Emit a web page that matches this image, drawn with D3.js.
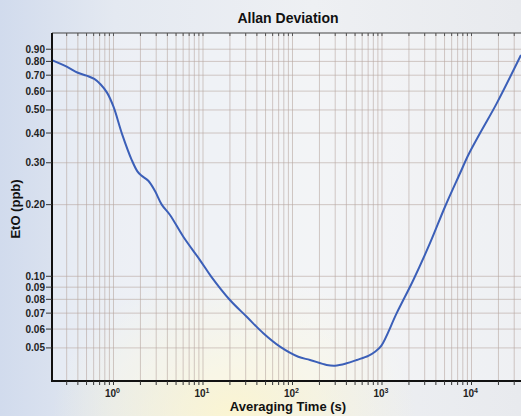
<!DOCTYPE html>
<html>
<head>
<meta charset="utf-8">
<script src="https://cdn.jsdelivr.net/npm/d3@7"></script>
<style>
  body { margin: 0; overflow: hidden; }
  svg { display: block; font-family: "Liberation Sans", Arial, sans-serif; }
  .grid line { stroke: #b7a7a0; stroke-opacity: 0.6; stroke-width: 1; }
  .tick-label { font-size: 10px; font-weight: bold; fill: #222; }
</style>
</head>
<body>
<svg id="chart" width="521" height="416"></svg>
<script>
"use strict";
// averaging time (s) and Allan deviation (ppb)
const tau = [0.205, 0.30, 0.40, 0.50, 0.61, 0.72, 0.85, 1.0, 1.25, 1.6, 1.85, 2.05, 2.45, 2.91, 3.46,
    4.28, 6.03, 9.25, 12.3, 20.0, 30.8, 47.2, 72.5, 116, 157, 241, 298, 403, 522, 703, 836, 980,
    1460, 2239, 3436, 5058, 7447, 9210, 12440, 19130, 35730];
const adev = [0.81, 0.76, 0.717, 0.697, 0.675, 0.64, 0.59, 0.516, 0.395, 0.308, 0.276, 0.265, 0.252, 0.228, 0.200,
    0.181, 0.1466, 0.117, 0.100, 0.0795, 0.0676, 0.0576, 0.0506, 0.0459, 0.0445, 0.0424, 0.0421, 0.0431, 0.0445, 0.0463, 0.0482, 0.051,
    0.070, 0.0965, 0.1377, 0.196, 0.271, 0.3234, 0.399, 0.533, 0.851];
const yTicks = [0.05, 0.06, 0.07, 0.08, 0.09, 0.10, 0.20, 0.30, 0.40, 0.50, 0.60, 0.70, 0.80, 0.90];
const xMajor = [0, 1, 2, 3, 4]; // exponents of 10

const width = 521, height = 416;
const margin = {top: 33, right: 0, bottom: 35, left: 52};

const svg = d3.select("#chart");
const defs = svg.append("defs");

// background: pale blue on the left, a warm glow low in the middle
let lg = defs.append("linearGradient").attr("id", "bg").attr("x1", 0).attr("x2", 1).attr("y1", 0).attr("y2", 0);
lg.append("stop").attr("offset", "0").attr("stop-color", "#d1dbed");
lg.append("stop").attr("offset", "0.22").attr("stop-color", "#e4e9f1");
lg.append("stop").attr("offset", "0.6").attr("stop-color", "#eef0f3");
lg.append("stop").attr("offset", "1").attr("stop-color", "#e8eaee");
let rg = defs.append("radialGradient").attr("id", "glow")
    .attr("cx", 0.45).attr("cy", 1.0).attr("r", 0.35);
rg.append("stop").attr("offset", "0").attr("stop-color", "#fbf5d2").attr("stop-opacity", 1);
rg.append("stop").attr("offset", "1").attr("stop-color", "#fbf5d2").attr("stop-opacity", 0);

svg.append("rect").attr("width", width).attr("height", height).attr("fill", "url(#bg)");
svg.append("rect").attr("width", width).attr("height", height).attr("fill", "url(#glow)");

const x = d3.scaleLog()
    .domain([0.2056, 35730])
    .range([margin.left, width - margin.right]);
const y = d3.scaleLog()
    .domain([0.0363, 1.053])
    .range([height - margin.bottom, margin.top]);

// plot area wash
svg.append("rect")
    .attr("x", margin.left).attr("y", margin.top)
    .attr("width", width - margin.left).attr("height", height - margin.bottom - margin.top)
    .attr("fill", "#ffffff").attr("fill-opacity", 0.3);

// minor positions 1..9 per decade
let xMinor = [];
for (let e = -1; e <= 4; e++) {
    for (let m = 1; m <= 9; m++) {
        let v = m * Math.pow(10, e);
        if (v > x.domain()[0] && v < x.domain()[1]) xMinor.push(v);
    }
}

const grid = svg.append("g").attr("class", "grid");
grid.selectAll(".vx").data(xMinor).enter().append("line")
    .attr("x1", d => x(d)).attr("x2", d => x(d))
    .attr("y1", margin.top).attr("y2", height - margin.bottom);
grid.selectAll(".hy").data(yTicks).enter().append("line")
    .attr("x1", margin.left).attr("x2", width)
    .attr("y1", d => y(d)).attr("y2", d => y(d));

// the curve
const line = d3.line()
    .x((d, i) => x(tau[i]))
    .y(d => y(d))
    .curve(d3.curveCatmullRom.alpha(0.5));
svg.append("path")
    .datum(adev)
    .attr("d", line)
    .attr("fill", "none")
    .attr("stroke", "#3b5fb8")
    .attr("stroke-width", 2);

// axes frame
const bottomY = height - margin.bottom;
svg.append("line").attr("x1", margin.left).attr("x2", width)
    .attr("y1", margin.top).attr("y2", margin.top)
    .attr("stroke", "#444").attr("stroke-width", 1.2);
svg.append("line").attr("x1", margin.left).attr("x2", width)
    .attr("y1", bottomY).attr("y2", bottomY)
    .attr("stroke", "#111").attr("stroke-width", 2);
svg.append("line").attr("x1", margin.left).attr("x2", margin.left)
    .attr("y1", margin.top).attr("y2", bottomY + 1)
    .attr("stroke", "#111").attr("stroke-width", 2);

// x ticks (below) and short ticks under top border
svg.selectAll(".xt").data(xMinor).enter().append("line")
    .attr("x1", d => x(d)).attr("x2", d => x(d))
    .attr("y1", bottomY).attr("y2", bottomY + 4)
    .attr("stroke", "#333").attr("stroke-width", 1);
svg.selectAll(".xtt").data(xMinor).enter().append("line")
    .attr("x1", d => x(d)).attr("x2", d => x(d))
    .attr("y1", margin.top).attr("y2", margin.top + 3)
    .attr("stroke", "#555").attr("stroke-width", 1);

let xl = svg.selectAll(".xl").data(xMinor.filter(d => xMajor.some(e => Math.abs(Math.log10(d) - e) < 1e-9)))
    .enter().append("text")
    .attr("class", "tick-label")
    .attr("x", d => x(d) - 1)
    .attr("y", bottomY + 16)
    .attr("text-anchor", "middle");
xl.append("tspan").text("10");
xl.append("tspan").attr("dy", -4).style("font-size", "7px").text(d => Math.round(Math.log10(d)));

// y ticks
svg.selectAll(".yt").data(yTicks).enter().append("line")
    .attr("x1", margin.left - 6).attr("x2", margin.left)
    .attr("y1", d => y(d)).attr("y2", d => y(d))
    .attr("stroke", "#333").attr("stroke-width", 1);
svg.selectAll(".yl").data(yTicks).enter().append("text")
    .attr("class", "tick-label")
    .attr("x", margin.left - 7)
    .attr("y", d => y(d))
    .attr("dy", "0.35em")
    .attr("text-anchor", "end")
    .text(d => d3.format(".2f")(d));

// titles
svg.append("text")
    .attr("x", 288).attr("y", 23)
    .attr("text-anchor", "middle")
    .style("font-size", "14px").style("font-weight", "bold").attr("fill", "#111")
    .text("Allan Deviation");
svg.append("text")
    .attr("x", 288).attr("y", 411)
    .attr("text-anchor", "middle")
    .style("font-size", "13px").style("font-weight", "bold").attr("fill", "#111")
    .text("Averaging Time (s)");
svg.append("text")
    .attr("transform", "translate(20,209) rotate(-90)")
    .attr("text-anchor", "middle")
    .style("font-size", "13px").style("font-weight", "bold").attr("fill", "#111")
    .text("EtO (ppb)");
</script>
</body>
</html>
